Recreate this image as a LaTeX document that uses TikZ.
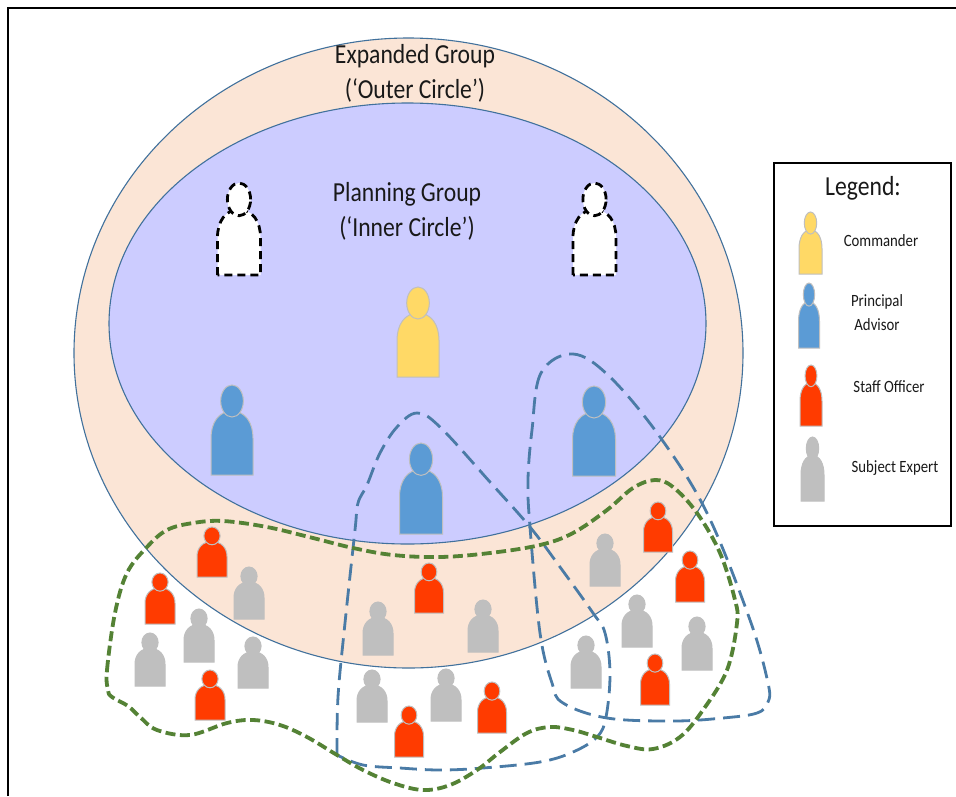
\documentclass[tikz,border=0pt]{standalone}
\usepackage{fontspec}
\setmainfont{Carlito}
\newfontfamily\narrowfont[FakeStretch=0.86]{Carlito}
\definecolor{outerfill}{HTML}{FBE5D6}
\definecolor{innerfill}{HTML}{CCCCFF}
\definecolor{ringline}{HTML}{41719C}
\definecolor{groupblue}{HTML}{4A7BA6}
\definecolor{groupgreen}{HTML}{548235}
\definecolor{cmdyellow}{HTML}{FFD966}
\definecolor{advblue}{HTML}{5B9BD5}
\definecolor{offred}{HTML}{FF3B00}
\definecolor{expgray}{HTML}{BFBFBF}
\tikzset{
  ring/.style={draw=ringline,line width=1.1pt},
  bluegroup/.style={draw=groupblue,line width=2.8pt,dash pattern=on 17pt off 8pt},
  greengroup/.style={draw=groupgreen,line width=3.8pt,dash pattern=on 10pt off 4.5pt},
  commander/.style={fill=cmdyellow,draw=expgray,line width=1pt},
  advisor/.style={fill=advblue,draw=expgray,line width=1pt},
  officer/.style={fill=offred,draw=expgray,line width=1pt},
  expert/.style={fill=expgray,draw=expgray,line width=1pt},
  ghost/.style={fill=white,draw=black,line width=2.8pt,dash pattern=on 8pt off 5pt},
  bigtext/.style={font=\narrowfont\fontsize{27.5}{30}\selectfont,inner sep=0pt,text=black!90},
  legtext/.style={font=\narrowfont\fontsize{17.2}{20}\selectfont,inner sep=0pt,text=black!90}
}
\newcommand{\personfig}[5]{%
  \begin{scope}[shift={(#1,#2)},x=#3pt,y=#4pt]
    \path[#5] (-.5,0) -- (-.5,.41) .. controls (-.5,.58) and (-.32,.71) .. (0,.71)
      .. controls (.32,.71) and (.5,.58) .. (.5,.41) -- (.5,0) -- cycle;
    \path[#5] (0,.822) ellipse [x radius=.27,y radius=.178];
  \end{scope}}
\begin{document}
\begin{tikzpicture}[x=1pt,y=-1pt]
\useasboundingbox (0,0) rectangle (956,796);
\fill[white] (0,0) rectangle (956,796);
\draw[black,line width=1.8pt] (8,796) -- (8,8) -- (956,8);
\path[ring,fill=outerfill] (408.5,353) ellipse [x radius=334.5,y radius=315];
\path[ring,fill=innerfill] (407.5,323.5) ellipse [x radius=298.5,y radius=220.5];
\node[bigtext] (outer1) at (415,56) {Expanded Group};
\node[bigtext] (outer2) at (415,90) {(‘Outer Circle’)};
\node[bigtext] (inner1) at (407,194) {Planning Group};
\node[bigtext] (inner2) at (407,228) {(‘Inner Circle’)};
% blue groups
\draw[bluegroup] plot[smooth,tension=.6] coordinates {(337,755) (338,697) (345,623) (355,530) (358,503) (367,485) (380,453) (397,427) (417,413) (440,427) (490,482) (530,527) (560,567) (593,613) (605,633) (610,673) (606,717) (597,737) (573,752) (540,762) (483,768) (440,770) (400,768) (363,765) (337,755)};
\draw[bluegroup] plot[smooth cycle,tension=.6] coordinates {(573,354) (541,373) (532,430) (528,480) (530,527) (540,633) (552,683) (563,703) (607,718) (673,721) (723,718) (757,713) (768,702) (768,683) (750,620) (707,513) (660,437) (610,377)};
% green group
\draw[greengroup] plot[smooth cycle,tension=.6] coordinates {(108,690) (107,670) (115,613) (127,573) (147,547) (167,530) (193,523) (223,521) (267,527) (313,538) (353,548) (393,555) (440,557) (490,553) (540,545) (573,533) (607,510) (633,488) (655,480) (673,487) (697,513) (720,553) (735,600) (737,623) (727,670) (703,710) (680,737) (653,749) (627,746) (597,737) (573,730) (550,727) (527,733) (500,752) (477,770) (450,785) (423,790) (393,783) (363,770) (337,755) (307,737) (280,725) (253,720) (227,723) (190,735) (157,730) (140,717) (128,706) (112,697)};
% ghosts
\personfig{239}{275}{43}{92}{ghost}
\personfig{594.5}{275}{43}{92}{ghost}
% main people
\personfig{418}{377}{42}{90}{commander}
\personfig{232}{475}{42}{90}{advisor}
\personfig{421}{534}{43}{91}{advisor}
\personfig{594}{476}{43}{90}{advisor}
% officers
\personfig{212}{577}{30}{50}{officer}
\personfig{160}{624}{30}{51}{officer}
\personfig{210}{720}{30}{50}{officer}
\personfig{429}{613}{29}{50}{officer}
\personfig{409}{757}{29}{51}{officer}
\personfig{658}{552}{29}{50}{officer}
\personfig{690}{602}{29}{51}{officer}
\personfig{655}{705}{29}{51}{officer}
\personfig{492}{733}{29}{51}{officer}
% experts
\personfig{249}{619}{30}{52}{expert}
\personfig{199}{662}{30}{53}{expert}
\personfig{150}{686}{30}{53}{expert}
\personfig{253}{688}{30}{51}{expert}
\personfig{378}{655}{30}{53}{expert}
\personfig{372}{722}{30}{52}{expert}
\personfig{446}{721}{30}{52}{expert}
\personfig{483}{652}{30}{52}{expert}
\personfig{605}{586}{30}{52}{expert}
\personfig{637}{647}{30}{52}{expert}
\personfig{697}{670}{30}{53}{expert}
\personfig{586}{688}{30}{52}{expert}
% legend
\draw[black,line width=1.3pt,fill=white] (774,163) rectangle (951,526);
\node[bigtext] (legendtitle) at (863,188) {Legend:};
\personfig{810.5}{274}{23}{62}{commander}
\personfig{809}{348}{21}{65}{advisor}
\personfig{811}{426}{22}{61}{officer}
\personfig{812.5}{501}{23}{64}{expert}
\node[legtext] (lcmd) at (881,241) {Commander};
\node[legtext] (ladv1) at (877,302) {Principal};
\node[legtext] (ladv2) at (877,325) {Advisor};
\node[legtext] (loff) at (889,387) {Staff Officer};
\node[legtext] (lexp) at (895,468) {Subject Expert};
\end{tikzpicture}
\end{document}
